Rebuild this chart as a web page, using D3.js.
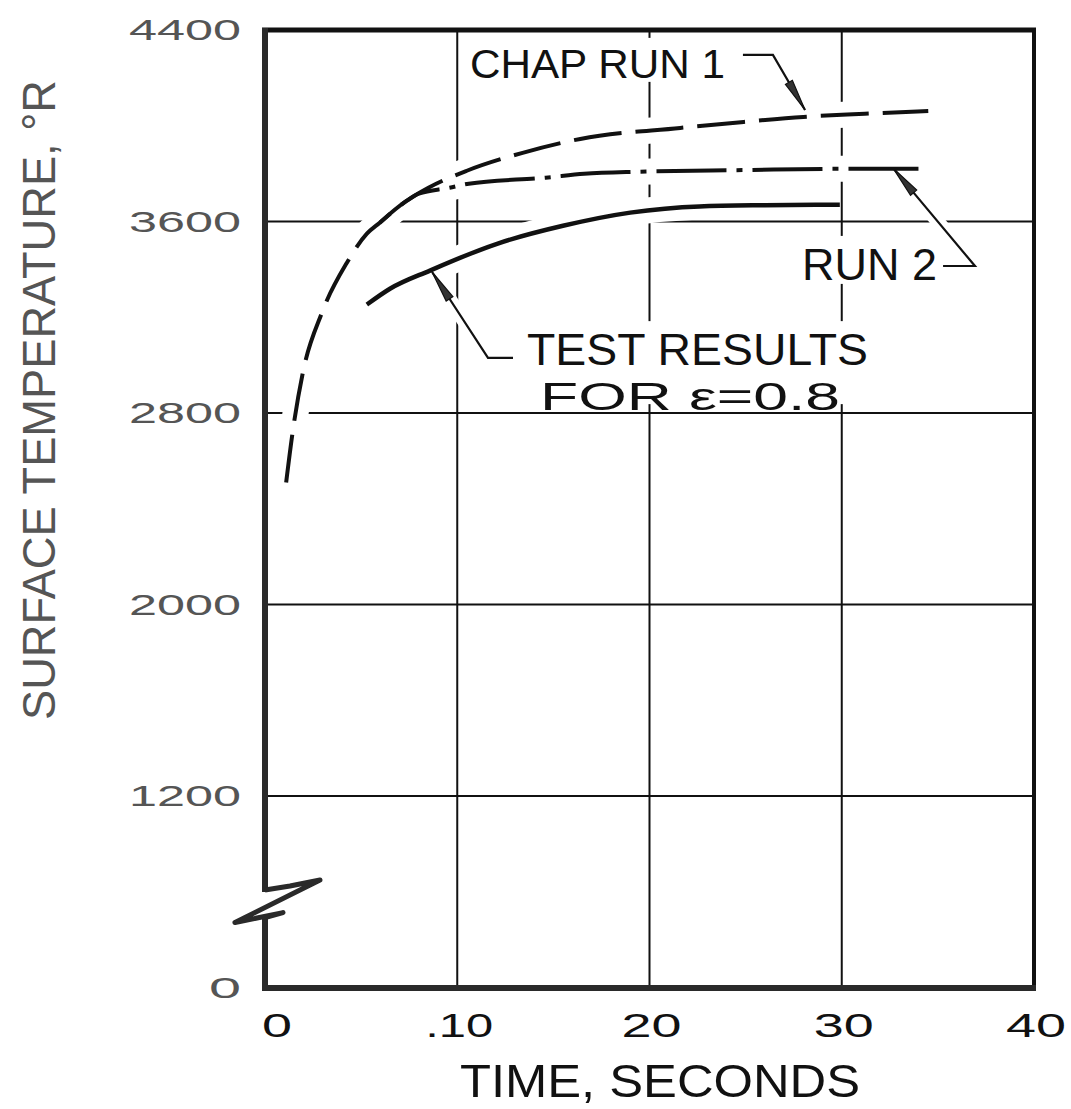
<!DOCTYPE html>
<html>
<head>
<meta charset="utf-8">
<script src="https://cdn.jsdelivr.net/npm/d3@7"></script>
<style>
  html, body { margin: 0; padding: 0; background: #fff; }
  svg { display: block; }
  text { font-family: "Liberation Sans", "DejaVu Sans", sans-serif; }
</style>
</head>
<body>
<div id="chart"></div>
<script>
// ---------------- data ----------------
const xTicks = [0, 10, 20, 30, 40];
const xTickLabels = ["0", ".10", "20", "30", "40"];
const yTicks = [0, 1200, 2000, 2800, 3600, 4400];
const yTickLabels = ["0", "1200", "2000", "2800", "3600", "4400"];
const yGrid = [1200, 2000, 2800, 3600];
const xGrid = [10, 20, 30];

// CHAP Run 1 (dashed)
const chapTime = [1.1, 1.45, 1.97, 2.96, 4.26, 5.3, 5.97, 7.38, 8.5, 10.5, 13.4, 16.4, 21.6, 24.9, 28.0, 31.2, 34.5];
const chapTemp = [2510, 2727, 2969, 3219, 3428, 3549, 3595, 3687, 3741, 3812, 3887, 3945, 3991, 4016, 4037, 4050, 4062];
// CHAP Run 2 (dash-dot)
const run2Time = [5.97, 7.38, 8.0, 9.6, 10.6, 14.6, 16.6, 19.4, 25.0, 29.9, 34.5];
const run2Temp = [3595, 3687, 3716, 3741, 3758, 3783, 3799, 3808, 3815, 3820, 3820];
// Test results (solid)
const testTime = [5.3, 6.5, 8.58, 12.07, 15.5, 19.0, 22.6, 26.0, 29.9];
const testTemp = [3253, 3319, 3395, 3507, 3582, 3637, 3663, 3668, 3670];

const xTitle = "TIME, SECONDS";
const yTitle = "SURFACE TEMPERATURE, °R";

// ---------------- layout ----------------
const W = 1071, H = 1109;
const svg = d3.select("#chart").append("svg").attr("width", W).attr("height", H);

const x = d3.scaleLinear().domain([0, 40]).range([265, 1034]);
// broken axis: bottom cell spans 0..1200
const y = d3.scaleLinear().domain([0, 1200, 4400]).range([988, 796, 30]);

const ink = "#111";

// gridlines
const grid = svg.append("g");
grid.selectAll("line.h").data(yGrid).join("line")
  .attr("x1", x(0)).attr("x2", x(40))
  .attr("y1", d => y(d)).attr("y2", d => y(d))
  .attr("stroke", ink).attr("stroke-width", 2);
grid.selectAll("line.v").data(xGrid).join("line")
  .attr("x1", d => x(d)).attr("x2", d => x(d))
  .attr("y1", y(0)).attr("y2", y(4400))
  .attr("stroke", ink).attr("stroke-width", 2);

// series
const series = [
  { t: chapTime, v: chapTemp, dash: "48,14", w: 4 },
  { t: run2Time, v: run2Temp, dash: "70,10,6,10", w: 4 },
  { t: testTime, v: testTemp, dash: null, w: 4.5 }
];
const line = d3.line().x(d => x(d[0])).y(d => y(d[1])).curve(d3.curveMonotoneX);
series.forEach(s => { s.pts = s.t.map((t, i) => [t, s.v[i]]); });

// annotations (data-unit anchors)
const annotations = [
  { lines: ["CHAP RUN 1"], at: [10.66, 4200], size: 40, len: [255],
    leader: [[24.86, 4296], [26.42, 4296], [28.09, 4066]] },
  { lines: ["RUN 2"], at: [27.93, 3356], size: 44, len: [135],
    leader: [[35.27, 3414], [36.93, 3414], [32.67, 3823]] },
  { lines: ["TEST RESULTS", "FOR  ε=0.8"], at: [13.63, 3000], size: 44, len: [341, 300], dx: [0, 13], dy: [0, 45],
    leader: [[12.9, 3030], [11.6, 3030], [8.69, 3389]] }
];

// white knock-outs (label backgrounds + curve halos) to break gridlines like the drawing
const knock = svg.append("g");
const labelG = svg.append("g");
annotations.forEach(a => {
  const g = labelG.append("g");
  a.lines.forEach((ln, i) => {
    const tx = g.append("text")
      .attr("x", x(a.at[0]) + (a.dx ? a.dx[i] : 0))
      .attr("y", y(a.at[1]) + (a.dy ? a.dy[i] : 0))
      .attr("font-size", i === 0 ? a.size : a.size - 6)
      .attr("fill", ink)
      .attr("textLength", a.len[i]).attr("lengthAdjust", "spacingAndGlyphs")
      .text(ln);
  });
  const bb = g.node().getBBox();
  const lastBase = y(a.at[1]) + (a.dy ? a.dy[a.lines.length - 1] : 0);
  knock.append("rect")
    .attr("x", bb.x - 6).attr("y", bb.y - 4)
    .attr("width", bb.width + 12).attr("height", lastBase - bb.y + 8 - (a.lines.length > 1 ? 10 : 0))
    .attr("fill", "#fff");
});

series.forEach(s => {
  knock.append("path").attr("d", line(s.pts))
    .attr("fill", "none").attr("stroke", "#fff").attr("stroke-width", 26);
});

// leaders with arrowheads
const leadG = svg.append("g");
annotations.forEach(a => {
  const pts = a.leader.map(p => [x(p[0]), y(p[1])]);
  knock.append("path").attr("d", d3.line()(pts))
    .attr("fill", "none").attr("stroke", "#fff").attr("stroke-width", 14);
  leadG.append("path").attr("d", d3.line()(pts))
    .attr("fill", "none").attr("stroke", ink).attr("stroke-width", 2.2);
  const tip = pts[pts.length - 1], prev = pts[pts.length - 2];
  const dx = prev[0] - tip[0], dy = prev[1] - tip[1];
  const L = Math.hypot(dx, dy), ux = dx / L, uy = dy / L;
  const len = 32, hw = 4;
  const base = [tip[0] + ux * len, tip[1] + uy * len];
  leadG.append("path")
    .attr("d", d3.line()([tip, [base[0] - uy * hw, base[1] + ux * hw], [base[0] + uy * hw, base[1] - ux * hw]]) + "Z")
    .attr("fill", "#333").attr("stroke", ink).attr("stroke-width", 1.2);
});

// curves
const curveG = svg.append("g");
series.forEach(s => {
  curveG.append("path").attr("d", line(s.pts))
    .attr("fill", "none").attr("stroke", ink)
    .attr("stroke-width", s.w)
    .attr("stroke-dasharray", s.dash)
    .attr("stroke-linecap", "butt");
});
labelG.raise();

// frame
const frame = svg.append("g");
frame.append("line").attr("x1", x(0) - 3).attr("x2", x(40) + 2).attr("y1", y(4400)).attr("y2", y(4400))
  .attr("stroke", ink).attr("stroke-width", 5);
frame.append("line").attr("x1", x(40)).attr("x2", x(40)).attr("y1", y(4400)).attr("y2", y(0) + 2)
  .attr("stroke", ink).attr("stroke-width", 4);
frame.append("line").attr("x1", x(0) - 3).attr("x2", x(40) + 2).attr("y1", y(0)).attr("y2", y(0))
  .attr("stroke", "#2a2a2a").attr("stroke-width", 6);
// left axis with break symbol
const brkHi = 600, brkLo = 440;
frame.append("line").attr("x1", x(0)).attr("x2", x(0)).attr("y1", y(4400) - 2).attr("y2", y(brkHi))
  .attr("stroke", "#2a2a2a").attr("stroke-width", 6);
frame.append("line").attr("x1", x(0)).attr("x2", x(0)).attr("y1", y(brkLo)).attr("y2", y(0) + 3)
  .attr("stroke", "#2a2a2a").attr("stroke-width", 6);
frame.append("path")
  .attr("d", d3.line()([
    [x(0), y(brkHi) - 2], [x(0) + 25, y(brkHi) - 6], [x(0) + 55, y(brkHi) - 12],
    [x(0) - 30, y(brkLo) + 5], [x(0) + 18, y(brkLo) - 5], [x(0), y(brkLo)]
  ]))
  .attr("fill", "none").attr("stroke", "#2a2a2a").attr("stroke-width", 5)
  .attr("stroke-linejoin", "round");

// y tick labels
svg.append("g").selectAll("text").data(yTicks).join("text")
  .attr("x", 241).attr("y", d => y(d) + 10)
  .attr("text-anchor", "end")
  .attr("font-size", 30)
  .attr("fill", "#555")
  .attr("textLength", (d, i) => yTickLabels[i].length === 1 ? 32 : 112)
  .attr("lengthAdjust", "spacingAndGlyphs")
  .text((d, i) => yTickLabels[i]);

// x tick labels
svg.append("g").selectAll("text").data(xTicks).join("text")
  .attr("x", d => x(d) + (d === 0 ? 12 : 2))
  .attr("y", 1037)
  .attr("text-anchor", "middle")
  .attr("font-size", 34)
  .attr("fill", ink)
  .attr("textLength", (d, i) => xTickLabels[i].length === 1 ? 30 : (xTickLabels[i].length === 3 ? 68 : 60))
  .attr("lengthAdjust", "spacingAndGlyphs")
  .text((d, i) => xTickLabels[i]);

// axis titles
svg.append("text")
  .attr("x", 660).attr("y", 1097)
  .attr("text-anchor", "middle")
  .attr("font-size", 46)
  .attr("fill", ink)
  .attr("textLength", 400).attr("lengthAdjust", "spacingAndGlyphs")
  .text(xTitle);

svg.append("text")
  .attr("transform", "translate(55,400) rotate(-90)")
  .attr("text-anchor", "middle")
  .attr("font-size", 46)
  .attr("fill", "#555")
  .attr("textLength", 640).attr("lengthAdjust", "spacingAndGlyphs")
  .text(yTitle);
</script>
</body>
</html>
